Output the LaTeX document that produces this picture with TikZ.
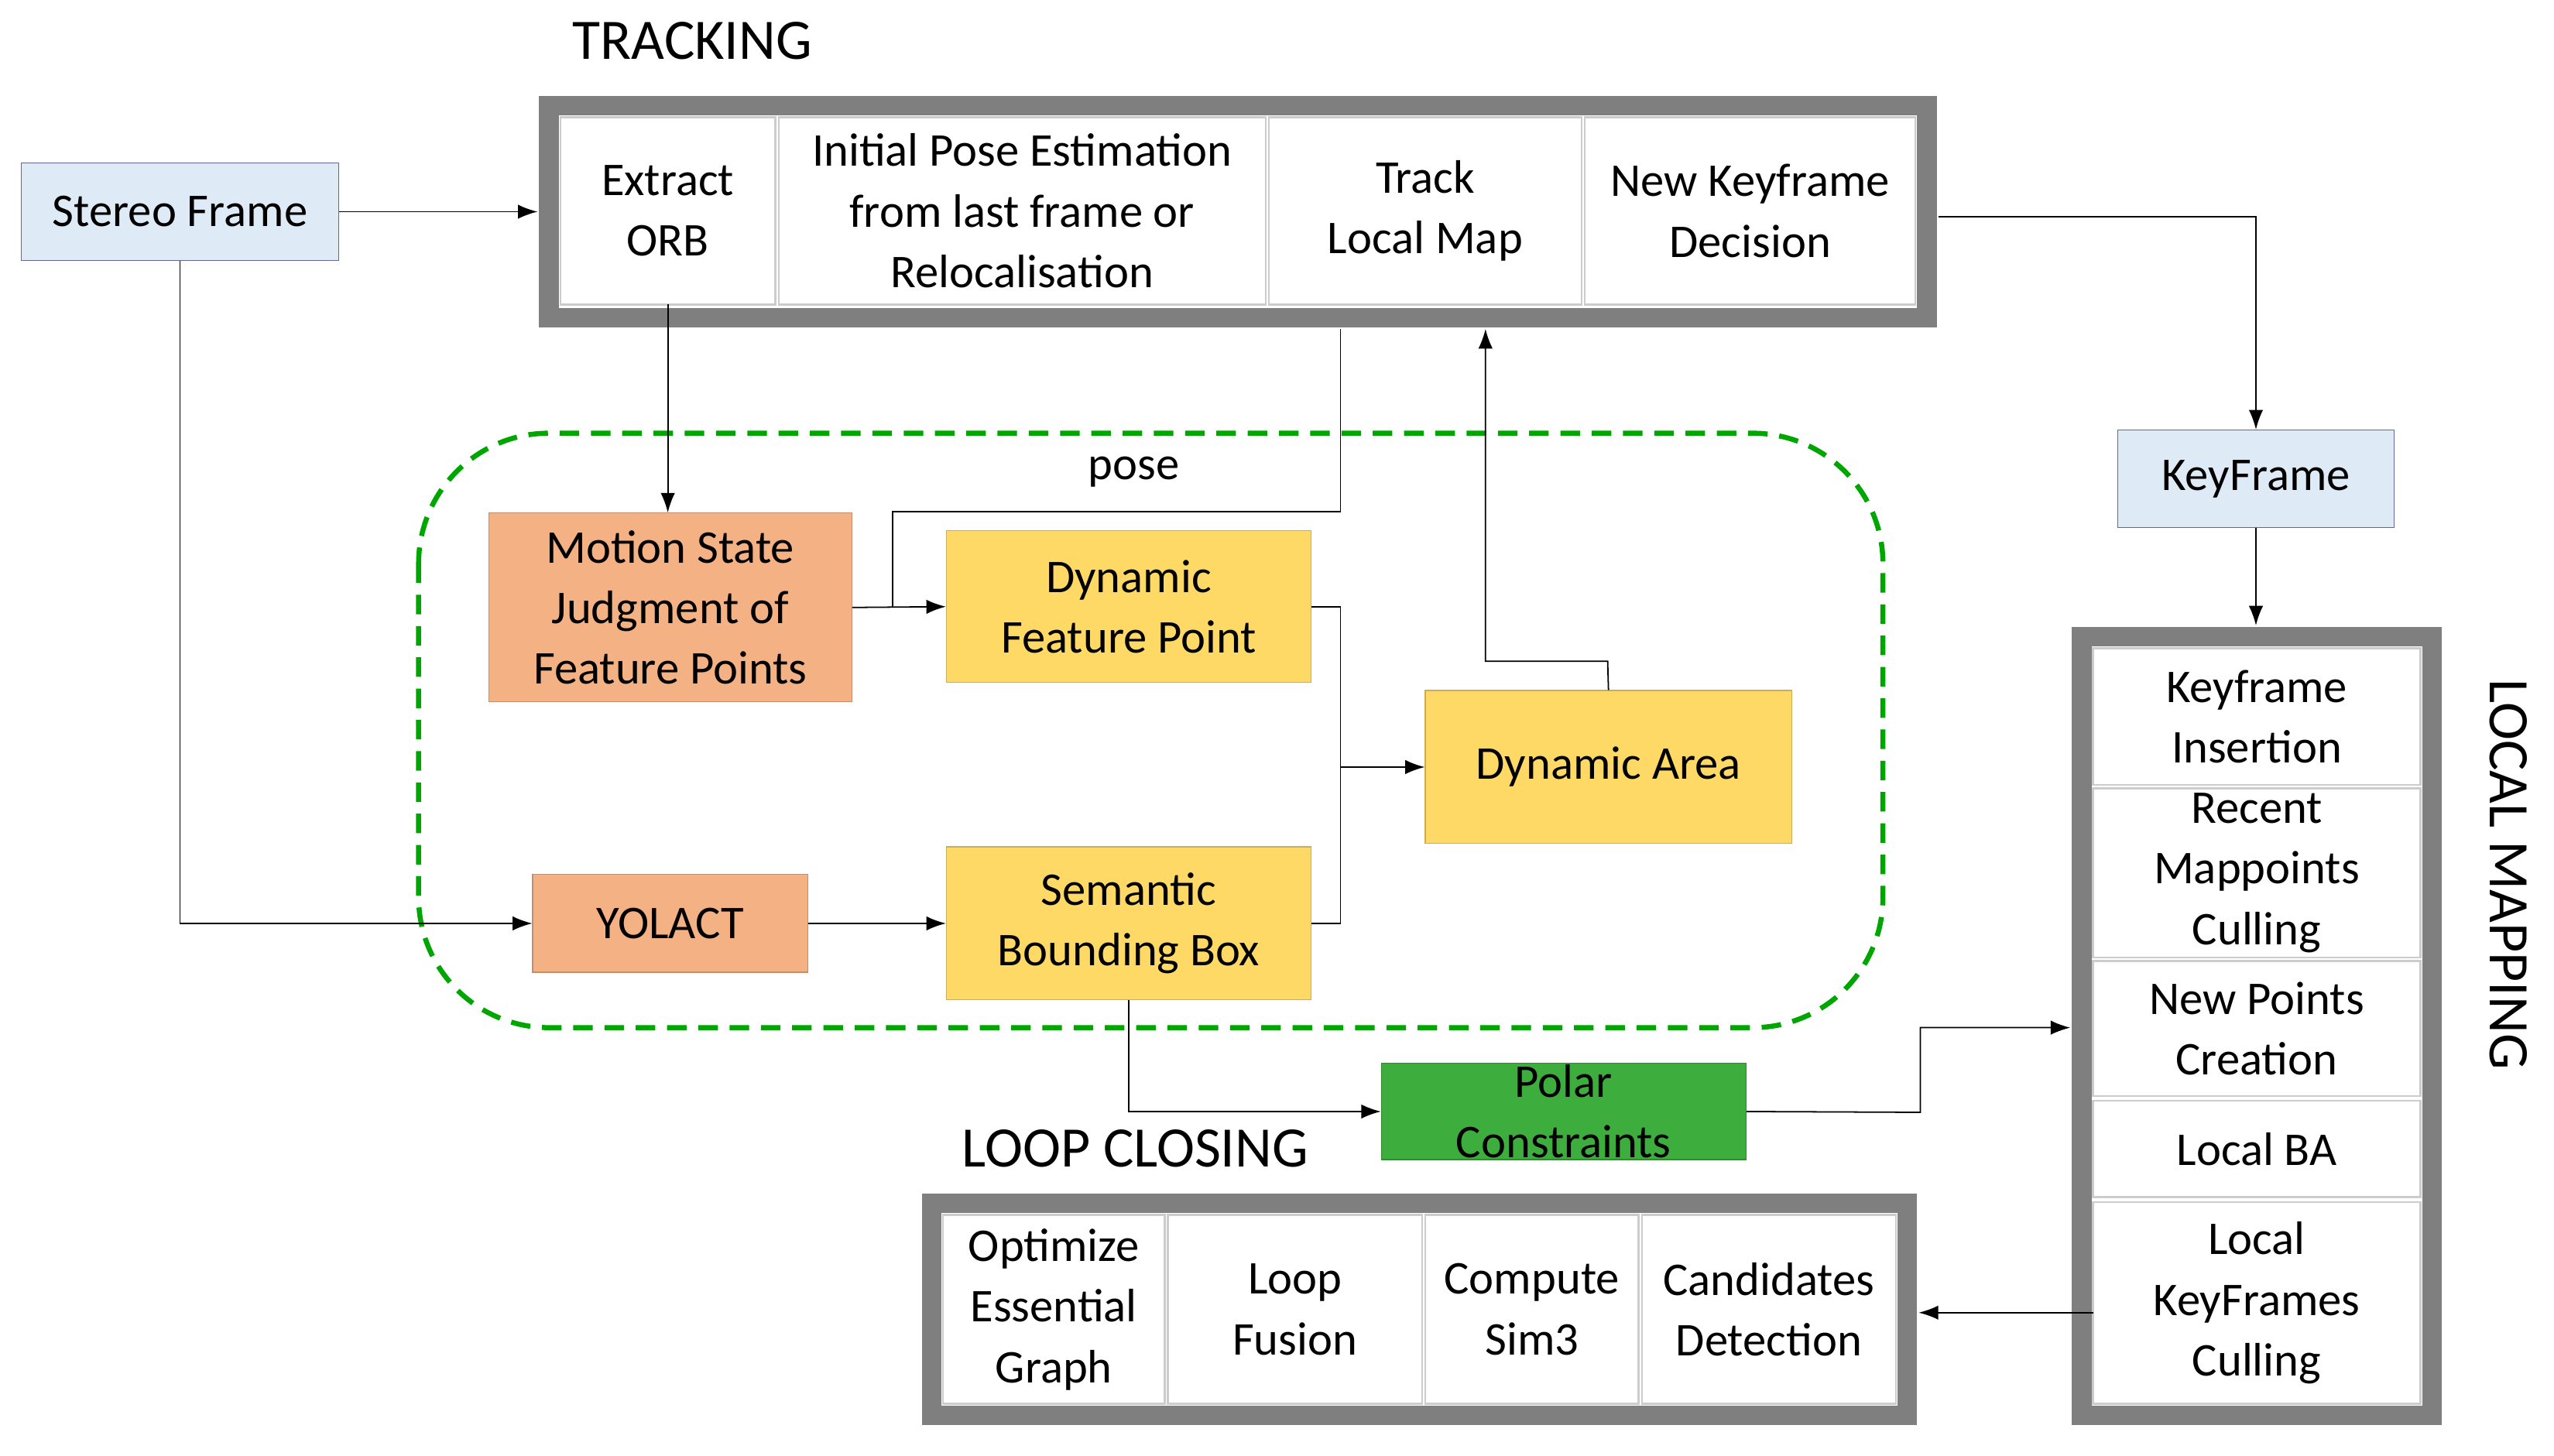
\documentclass[tikz,border=0pt]{standalone}
\usepackage{fontspec}
\setmainfont{Carlito}
\usetikzlibrary{arrows.meta}
\definecolor{lblue}{HTML}{DEEBF7}
\definecolor{orng}{HTML}{F4B183}
\definecolor{yel}{HTML}{FFD966}
\definecolor{grn}{HTML}{3DAE3D}
\definecolor{frame}{HTML}{7F7F7F}
\begin{document}
\begin{tikzpicture}[x=0.25mm,y=-0.25mm,
  every node/.style={font=\fontsize{20.5}{26.5}\selectfont, align=center, inner sep=0pt},
  outer/.style={draw=frame, line width=3mm, fill=white},
  cell/.style={draw=gray!40, line width=0.8pt, fill=white},
  ar/.style={-{Latex[length=3mm,width=2.2mm]}, line width=0.6pt},
  ln/.style={line width=0.6pt}]
\useasboundingbox (0,0) rectangle (1568,894);
% tracking
\node at (425,25) {\fontsize{25}{28}\selectfont TRACKING};
\draw[outer] (337,65) rectangle (1183,195);
\foreach \a/\b/\n/\t in {344/476/eorb/{Extract\\ORB},478/777/ipe/{Initial Pose Estimation\\from last frame or\\Relocalisation},779/971/tlm/{Track\\Local Map},973/1176/nkd/{New Keyframe\\Decision}}{
  \draw[cell] (\a,72) rectangle (\b,187);
  \node (\n) at ({(\a+\b)/2},129.5) {\t};}
\coordinate (eorbB) at (410,187);
\coordinate (tlmB) at (823,202);
\coordinate (trkB) at (912,202);
\coordinate (trkL) at (330,130);
\coordinate (trk) at (1190,133);
\node[draw=gray!80!blue, fill=lblue, minimum width=195*0.25mm, minimum height=60*0.25mm] (sf) at (110.5,130) {Stereo Frame};
\node[draw=gray!80!blue, fill=lblue, minimum width=170*0.25mm, minimum height=60*0.25mm] (kf) at (1385,294) {KeyFrame};
% local mapping
\draw[outer] (1278,391) rectangle (1493,869);
\foreach \a/\b/\n/\t in {398/482/ki/{Keyframe\\Insertion},484/588/rmc/{Recent\\Mappoints\\Culling},590/673/npc/{New Points\\Creation},676/735/lba/{Local BA},738/862/lkc/{Local\\KeyFrames\\Culling}}{
  \draw[cell] (1285,\a) rectangle (1486,\b);
  \node (\n) at (1385.5,{(\a+\b)/2}) {\t};}
\coordinate (lmT) at (1385,384);
\coordinate (lmL) at (1271,631);
\coordinate (lkcL) at (1285,806);
\node[rotate=-90] at (1540,537) {\fontsize{25}{28}\selectfont LOCAL MAPPING};
% loop closing
\node at (697,705) {\fontsize{25}{28}\selectfont LOOP CLOSING};
\draw[outer] (572,739) rectangle (1171,869);
\foreach \a/\b/\n/\t in {579/715/oeg/{Optimize\\Essential\\Graph},717/873/lf/{Loop\\Fusion},875/1006/cs/{Compute\\Sim3},1008/1164/cd/{Candidates\\Detection}}{
  \draw[cell] (\a,746) rectangle (\b,862);
  \node (\n) at ({(\a+\b)/2},804) {\t};}
\coordinate (lcR) at (1178,806);
% dashed region
\draw[green!65!black, line width=2.2pt, dash pattern=on 3mm off 1.8mm, rounded corners=20mm] (257,266) rectangle (1156,631);
\node[fill=orng, draw=orng!80!black, minimum width=223*0.25mm, minimum height=116*0.25mm] (ms) at (411.5,373) {Motion State\\Judgment of\\Feature Points};
\node[fill=orng, draw=orng!80!black, minimum width=169*0.25mm, minimum height=60*0.25mm] (yo) at (411.5,567) {YOLACT};
\node[fill=yel, draw=yel!80!black, minimum width=224*0.25mm, minimum height=93*0.25mm] (dfp) at (693,372.5) {Dynamic\\Feature Point};
\node[fill=yel, draw=yel!80!black, minimum width=224*0.25mm, minimum height=94*0.25mm] (sbb) at (693,567) {Semantic\\Bounding Box};
\node[fill=yel, draw=yel!80!black, minimum width=225*0.25mm, minimum height=94*0.25mm] (da) at (987.5,471) {Dynamic Area};
\node[fill=grn, draw=grn!80!black, minimum width=224*0.25mm, minimum height=59*0.25mm] (pc) at (960,682.5) {Polar\\Constraints};
\node at (696,290) {pose};
\coordinate (j) at (823,471);
% connectors
\draw[ar] (sf.east) -- (trkL);
\draw[ar] (eorbB) -- (ms.north -| eorbB);
\draw[ar] (sf.south) |- (yo.west);
\draw[ar] (yo.east) -- (sbb.west);
\draw[ar] (ms.east) -- (dfp.west);
\draw[ln] (tlmB) -- (823,314) -- (548,314) -- (548,373);
\draw[ln] (dfp.east) -| (j);
\draw[ln] (sbb.east) -| (j);
\draw[ar] (j) -- (da.west);
\draw[ar] (da.north) -- (987,406) -- (912,406) -- (trkB);
\draw[ar] (sbb.south) |- (pc.west);
\draw[ar] (pc.east) -- (1179,683) -- (1179,631) -- (lmL);
\draw[ar] (trk) -| (kf.north);
\draw[ar] (kf.south) -- (lmT);
\draw[ar] (lkcL) -- (lcR);
\end{tikzpicture}
\end{document}
